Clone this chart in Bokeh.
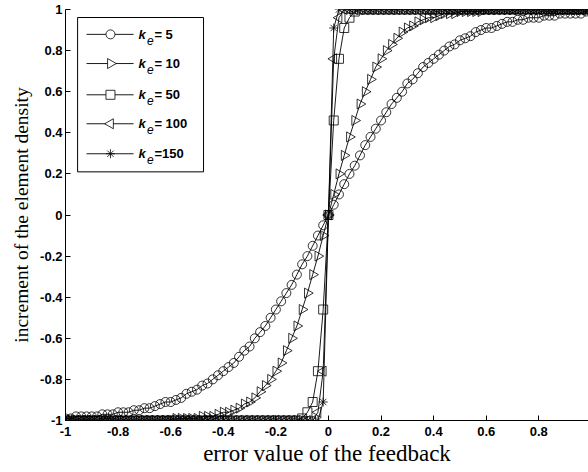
from bokeh.plotting import figure
from bokeh.models import FixedTicker, Range1d, Title
from bokeh.core.properties import value
from bokeh.embed import file_html
from bokeh.resources import INLINE
import math

# ---------------- data ----------------
x = [-1.00, -0.98, -0.96, -0.94, -0.92, -0.90, -0.88, -0.86, -0.84, -0.82,
     -0.80, -0.78, -0.76, -0.74, -0.72, -0.70, -0.68, -0.66, -0.64, -0.62,
     -0.60, -0.58, -0.56, -0.54, -0.52, -0.50, -0.48, -0.46, -0.44, -0.42,
     -0.40, -0.38, -0.36, -0.34, -0.32, -0.30, -0.28, -0.26, -0.24, -0.22,
     -0.20, -0.18, -0.16, -0.14, -0.12, -0.10, -0.08, -0.06, -0.04, -0.02,
     0.00,
     0.02, 0.04, 0.06, 0.08, 0.10, 0.12, 0.14, 0.16, 0.18, 0.20,
     0.22, 0.24, 0.26, 0.28, 0.30, 0.32, 0.34, 0.36, 0.38, 0.40,
     0.42, 0.44, 0.46, 0.48, 0.50, 0.52, 0.54, 0.56, 0.58, 0.60,
     0.62, 0.64, 0.66, 0.68, 0.70, 0.72, 0.74, 0.76, 0.78, 0.80,
     0.82, 0.84, 0.86, 0.88, 0.90, 0.92, 0.94, 0.96, 0.98, 1.00]

ke5 = [-0.99, -0.99, -0.98, -0.98, -0.98, -0.98, -0.98, -0.97, -0.97, -0.97,
       -0.96, -0.96, -0.96, -0.95, -0.95, -0.94, -0.94, -0.93, -0.92, -0.91,
       -0.91, -0.90, -0.89, -0.87, -0.86, -0.85, -0.83, -0.82, -0.80, -0.78,
       -0.76, -0.74, -0.72, -0.69, -0.66, -0.64, -0.60, -0.57, -0.54, -0.50,
       -0.46, -0.42, -0.38, -0.34, -0.29, -0.24, -0.20, -0.15, -0.10, -0.05,
       0.00,
       0.05, 0.10, 0.15, 0.20, 0.24, 0.29, 0.34, 0.38, 0.42, 0.46,
       0.50, 0.54, 0.57, 0.60, 0.64, 0.66, 0.69, 0.72, 0.74, 0.76,
       0.78, 0.80, 0.82, 0.83, 0.85, 0.86, 0.87, 0.89, 0.90, 0.91,
       0.91, 0.92, 0.93, 0.94, 0.94, 0.95, 0.95, 0.96, 0.96, 0.96,
       0.97, 0.97, 0.97, 0.98, 0.98, 0.98, 0.98, 0.98, 0.99, 0.99]

ke10 = [-1.00, -1.00, -1.00, -1.00, -1.00, -1.00, -1.00, -1.00, -1.00, -1.00,
        -1.00, -1.00, -1.00, -1.00, -1.00, -1.00, -1.00, -1.00, -1.00, -1.00,
        -1.00, -0.99, -0.99, -0.99, -0.99, -0.99, -0.98, -0.98, -0.98, -0.97,
        -0.96, -0.96, -0.95, -0.94, -0.92, -0.91, -0.89, -0.86, -0.83, -0.80,
        -0.76, -0.72, -0.66, -0.60, -0.54, -0.46, -0.38, -0.29, -0.20, -0.10,
        0.00,
        0.10, 0.20, 0.29, 0.38, 0.46, 0.54, 0.60, 0.66, 0.72, 0.76,
        0.80, 0.83, 0.86, 0.89, 0.91, 0.92, 0.94, 0.95, 0.96, 0.96,
        0.97, 0.98, 0.98, 0.98, 0.99, 0.99, 0.99, 0.99, 0.99, 1.00,
        1.00, 1.00, 1.00, 1.00, 1.00, 1.00, 1.00, 1.00, 1.00, 1.00,
        1.00, 1.00, 1.00, 1.00, 1.00, 1.00, 1.00, 1.00, 1.00, 1.00]

ke50 = [-1.00, -1.00, -1.00, -1.00, -1.00, -1.00, -1.00, -1.00, -1.00, -1.00,
        -1.00, -1.00, -1.00, -1.00, -1.00, -1.00, -1.00, -1.00, -1.00, -1.00,
        -1.00, -1.00, -1.00, -1.00, -1.00, -1.00, -1.00, -1.00, -1.00, -1.00,
        -1.00, -1.00, -1.00, -1.00, -1.00, -1.00, -1.00, -1.00, -1.00, -1.00,
        -1.00, -1.00, -1.00, -1.00, -1.00, -0.99, -0.96, -0.91, -0.76, -0.46,
        0.00,
        0.46, 0.76, 0.91, 0.96, 0.99, 1.00, 1.00, 1.00, 1.00, 1.00,
        1.00, 1.00, 1.00, 1.00, 1.00, 1.00, 1.00, 1.00, 1.00, 1.00,
        1.00, 1.00, 1.00, 1.00, 1.00, 1.00, 1.00, 1.00, 1.00, 1.00,
        1.00, 1.00, 1.00, 1.00, 1.00, 1.00, 1.00, 1.00, 1.00, 1.00,
        1.00, 1.00, 1.00, 1.00, 1.00, 1.00, 1.00, 1.00, 1.00, 1.00]

ke100 = [-1.00, -1.00, -1.00, -1.00, -1.00, -1.00, -1.00, -1.00, -1.00, -1.00,
         -1.00, -1.00, -1.00, -1.00, -1.00, -1.00, -1.00, -1.00, -1.00, -1.00,
         -1.00, -1.00, -1.00, -1.00, -1.00, -1.00, -1.00, -1.00, -1.00, -1.00,
         -1.00, -1.00, -1.00, -1.00, -1.00, -1.00, -1.00, -1.00, -1.00, -1.00,
         -1.00, -1.00, -1.00, -1.00, -1.00, -1.00, -1.00, -1.00, -0.96, -0.76,
         0.00,
         0.76, 0.96, 1.00, 1.00, 1.00, 1.00, 1.00, 1.00, 1.00, 1.00,
         1.00, 1.00, 1.00, 1.00, 1.00, 1.00, 1.00, 1.00, 1.00, 1.00,
         1.00, 1.00, 1.00, 1.00, 1.00, 1.00, 1.00, 1.00, 1.00, 1.00,
         1.00, 1.00, 1.00, 1.00, 1.00, 1.00, 1.00, 1.00, 1.00, 1.00,
         1.00, 1.00, 1.00, 1.00, 1.00, 1.00, 1.00, 1.00, 1.00, 1.00]

ke150 = [-1.00, -1.00, -1.00, -1.00, -1.00, -1.00, -1.00, -1.00, -1.00, -1.00,
         -1.00, -1.00, -1.00, -1.00, -1.00, -1.00, -1.00, -1.00, -1.00, -1.00,
         -1.00, -1.00, -1.00, -1.00, -1.00, -1.00, -1.00, -1.00, -1.00, -1.00,
         -1.00, -1.00, -1.00, -1.00, -1.00, -1.00, -1.00, -1.00, -1.00, -1.00,
         -1.00, -1.00, -1.00, -1.00, -1.00, -1.00, -1.00, -1.00, -1.00, -0.91,
         0.00,
         0.91, 1.00, 1.00, 1.00, 1.00, 1.00, 1.00, 1.00, 1.00, 1.00,
         1.00, 1.00, 1.00, 1.00, 1.00, 1.00, 1.00, 1.00, 1.00, 1.00,
         1.00, 1.00, 1.00, 1.00, 1.00, 1.00, 1.00, 1.00, 1.00, 1.00,
         1.00, 1.00, 1.00, 1.00, 1.00, 1.00, 1.00, 1.00, 1.00, 1.00,
         1.00, 1.00, 1.00, 1.00, 1.00, 1.00, 1.00, 1.00, 1.00, 1.00]

legend_tails = ["= 5", "= 10", "= 50", "= 100", "=150"]
tick_values = [-1, -0.8, -0.6, -0.4, -0.2, 0, 0.2, 0.4, 0.6, 0.8, 1]
tick_labels = ["-1", "-0.8", "-0.6", "-0.4", "-0.2", "0", "0.2", "0.4", "0.6", "0.8", "1"]
x_title = "error value of the feedback"
y_title = "increment of the element density"

series = [ke5, ke10, ke50, ke100, ke150]
# marker styles: (marker, size, angle)
styles = [("circle", 9, 0.0),
          ("triangle", 10, -math.pi / 2),
          ("square", 9, 0.0),
          ("triangle", 10, math.pi / 2),
          ("asterisk", 9, 0.0)]

# ---------------- figure ----------------
X_END = 0.989
p = figure(width=588, height=472, x_range=Range1d(-1, X_END), y_range=Range1d(-1, 1),
           output_backend="svg", toolbar_location=None,
           min_border_left=65, min_border_right=0, min_border_top=9, min_border_bottom=52)
p.grid.visible = False
p.outline_line_color = None
p.background_fill_color = "white"
p.border_fill_color = "white"

INK = "#000000"

for ys, (mk, sz, ang) in zip(series, styles):
    p.line(x, ys, line_color=INK, line_width=0.9)
    p.scatter(x, ys, marker=mk, size=sz, angle=ang, line_color=INK,
              line_width=0.8, fill_color=None)

# axes
for ax in (p.xaxis[0], p.yaxis[0]):
    ax.ticker = FixedTicker(ticks=tick_values)
    ax.major_label_overrides = {v: s for v, s in zip(tick_values, tick_labels)}
    ax.minor_tick_line_color = None
    ax.major_tick_in = 5
    ax.major_tick_out = 0
    ax.axis_line_color = INK
    ax.major_tick_line_color = INK
    ax.major_label_text_font = "Liberation Sans"
    ax.major_label_text_font_style = "bold"
    ax.major_label_text_font_size = "13px"
    ax.major_label_text_color = INK

p.xaxis.axis_label = x_title
p.xaxis.axis_label_text_font = "Liberation Serif"
p.xaxis.axis_label_text_font_style = "normal"
p.xaxis.axis_label_text_font_size = "23px"
p.xaxis.axis_label_text_color = INK
p.xaxis.major_label_standoff = 6
p.xaxis.axis_label_standoff = 2
p.yaxis.major_label_standoff = 3

# y title: a left-side title, shifted a little above the frame centre like the original
p.add_layout(Title(text=y_title, align="center", offset=28,
                   text_font="Liberation Serif", text_font_size="19.5px",
                   text_font_style="normal", text_color=INK, standoff=12), "left")

# ---------------- legend (drawn by hand, positions in axis units) ----------------
box_l, box_r, box_t, box_b = -0.954, -0.475, 0.961, 0.210
row_y = [0.879, 0.737, 0.585, 0.444, 0.298]
seg_l, seg_r, mark_x = -0.920, -0.741, -0.829
k_x, e_x, tail_x = -0.722, -0.690, -0.662
e_drop = 0.030

p.quad(left=[box_l], right=[box_r], top=[box_t], bottom=[box_b],
       fill_color="white", line_color=INK, line_width=1)
for yy, (mk, sz, ang), tail in zip(row_y, styles, legend_tails):
    p.line([seg_l, seg_r], [yy, yy], line_color=INK, line_width=0.9)
    p.scatter([mark_x], [yy], marker=mk, size=sz, angle=ang, line_color=INK,
              line_width=0.8, fill_color="white")
    p.text([k_x], [yy], text=["k"], text_font=value("Liberation Sans"),
           text_font_style="bold italic", text_font_size="13px",
           text_baseline="middle", text_align="left", text_color=INK)
    p.text([e_x], [yy - e_drop], text=["e"], text_font=value("Liberation Sans"),
           text_font_style="italic", text_font_size="12px",
           text_baseline="middle", text_align="left", text_color=INK)
    p.text([tail_x], [yy], text=[tail], text_font=value("Liberation Sans"),
           text_font_style="bold", text_font_size="13px",
           text_baseline="middle", text_align="left", text_color=INK)

open("out.html", "w").write(file_html(p, INLINE))
